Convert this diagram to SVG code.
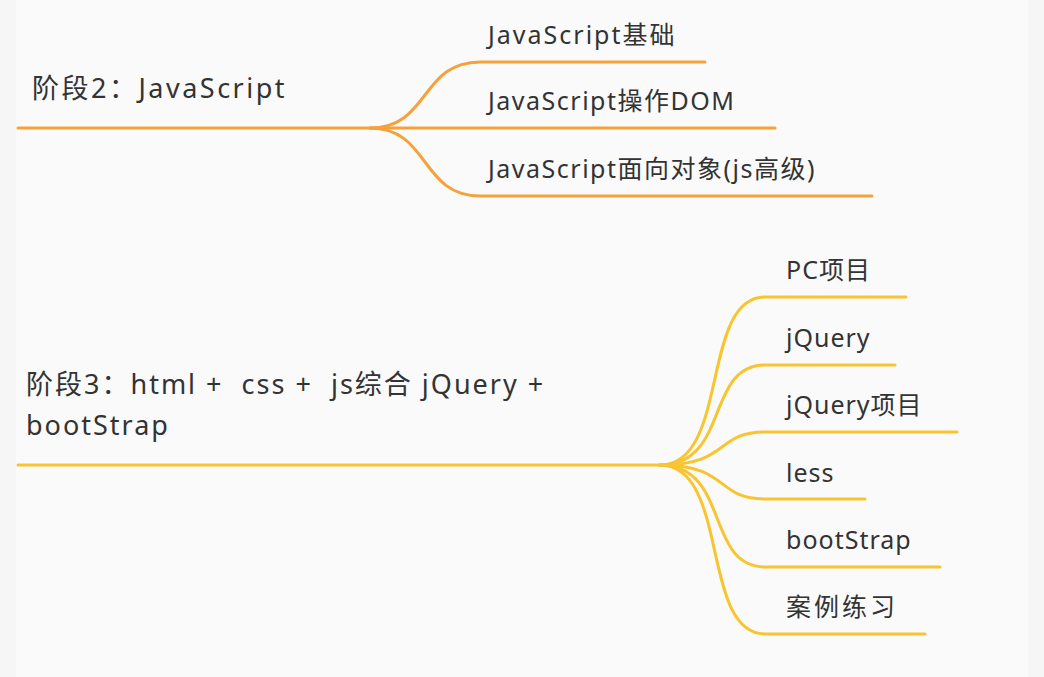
<svg xmlns="http://www.w3.org/2000/svg" width="1044" height="677" viewBox="0 0 1044 677">
<style>
text{font-family:"Noto Sans","Noto Sans CJK SC",sans-serif;font-size:27px;fill:#333;letter-spacing:1.2px;white-space:pre}
.s{font-size:25px;letter-spacing:1px}
.o{fill:none;stroke:#f5a23c;stroke-width:3;stroke-linecap:round}
.y{fill:none;stroke:#f8c531;stroke-width:3;stroke-linecap:round}
</style>
<rect width="1044" height="677" fill="#f6f6f6"/>
<rect x="16" y="0" width="1012" height="677" fill="#fafafa"/>
<g id="connectors">
<path class="o" d="M18 128H370"/>
<path class="o" d="M370 128C430 128 420 62 480 62H705"/>
<path class="o" d="M370 128H775"/>
<path class="o" d="M370 128C430 128 420 196 480 196H872"/>
<path class="y" d="M18 465H660"/>
<path class="y" d="M660 465C730 465 700 297 765 297H906"/>
<path class="y" d="M660 465C730 465 705 365 765 365H895"/>
<path class="y" d="M660 465C730 465 715 432 765 432H957"/>
<path class="y" d="M660 465C730 465 715 499 765 499H865"/>
<path class="y" d="M660 465C730 465 705 567 765 567H940"/>
<path class="y" d="M660 465C730 465 700 634 765 634H925"/>
</g>
<g id="stage2"><text x="32" y="98" style="letter-spacing:2.5px">阶段2：JavaScript</text></g>
<g id="n1"><text class="s" x="488" y="44" style="letter-spacing:2px">JavaScript基础</text></g>
<g id="n2"><text class="s" x="488" y="110" style="letter-spacing:1.5px">JavaScript操作DOM</text></g>
<g id="n3"><text class="s" x="488" y="178" style="letter-spacing:1.5px">JavaScript面向对象(js高级)</text></g>
<g id="stage3"><text x="26" y="394" xml:space="preserve" style="letter-spacing:2px">阶段3：html +  css +  js综合 jQuery +</text><text x="26" y="435" style="letter-spacing:2px">bootStrap</text></g>
<g id="m1"><text class="s" x="786" y="279">PC项目</text></g>
<g id="m2"><text class="s" x="786" y="347">jQuery</text></g>
<g id="m3"><text class="s" x="786" y="414">jQuery项目</text></g>
<g id="m4"><text class="s" x="786" y="482">less</text></g>
<g id="m5"><text class="s" x="786" y="549">bootStrap</text></g>
<g id="m6"><text class="s" x="786" y="616" style="letter-spacing:3px">案例练习</text></g>
</svg>
